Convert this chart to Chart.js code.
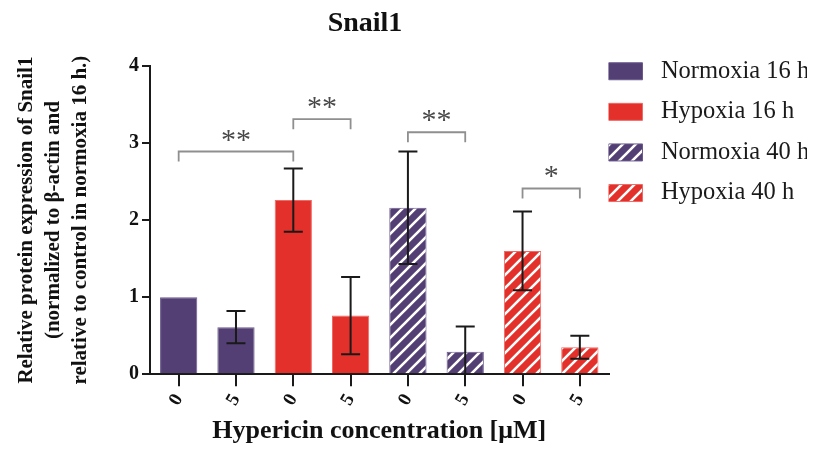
<!DOCTYPE html>
<html>
<head>
<meta charset="utf-8">
<script src="https://cdn.jsdelivr.net/npm/chart.js@4.4.0/dist/chart.umd.min.js"></script>
<style>
  html, body { margin: 0; padding: 0; background: #fff; }
</style>
</head>
<body>
<canvas id="snailChart" width="819" height="451"></canvas>
<script>
// values
const doseLabels = ['0', '5', '0', '5', '0', '5', '0', '5'];
const groupNames = ['Normoxia 16 h', 'Hypoxia 16 h', 'Normoxia 40 h', 'Hypoxia 40 h'];
const normoxia16Mean = [1.00, 0.61];
const normoxia16Err = [0, 0.21];
const hypoxia16Mean = [2.26, 0.76];
const hypoxia16Err = [0.41, 0.50];
const normoxia40Mean = [2.16, 0.29];
const normoxia40Err = [0.73, 0.33];
const hypoxia40Mean = [1.60, 0.35];
const hypoxia40Err = [0.51, 0.15];
// [from bar, to bar, bracket level, stars]
const brackets = [
    [0, 2, 2.89, '**'],
    [2, 3, 3.31, '**'],
    [4, 5, 3.14, '**'],
    [6, 7, 2.41, '*'],
];

const SERIF = '"Liberation Serif", "Times New Roman", serif';
const PURPLE = '#533f74';
const RED = '#e3302a';

function hatch(color) {
    const size = 13;
    const c = document.createElement('canvas');
    c.width = size;
    c.height = size;
    const g = c.getContext('2d');
    g.fillStyle = color;
    g.fillRect(0, 0, size, size);
    g.strokeStyle = '#ffffff';
    g.lineWidth = 2.6;
    g.beginPath();
    g.moveTo(-2, size + 2); g.lineTo(size + 2, -2);
    g.moveTo(-size / 2 - 2, size / 2 + 2); g.lineTo(size / 2 + 2, -size / 2 - 2);
    g.moveTo(size / 2 - 2, size * 1.5 + 2); g.lineTo(size * 1.5 + 2, size / 2 - 2);
    g.stroke();
    return g.createPattern(c, 'repeat');
}

// each group fills two of the eight slots
function slots(values, group) {
    const out = doseLabels.map(() => null);
    values.forEach((v, k) => { out[group * 2 + k] = v; });
    return out;
}

const groupMeans = [normoxia16Mean, hypoxia16Mean, normoxia40Mean, hypoxia40Mean];
const groupErrs = [normoxia16Err, hypoxia16Err, normoxia40Err, hypoxia40Err];
const groupFills = [PURPLE, RED, hatch(PURPLE), hatch(RED)];
const groupBorders = ['#6a5a8c', '#ee6a66', '#6a5a8c', '#ee6a66'];

const errorBars = {
    id: 'errorBars',
    afterDatasetsDraw(chart) {
        const { ctx, chartArea, scales: { y } } = chart;
        ctx.save();
        ctx.strokeStyle = '#1a1a1a';
        ctx.lineWidth = 2;
        chart.data.datasets.forEach((ds, i) => {
            const meta = chart.getDatasetMeta(i);
            meta.data.forEach((bar, j) => {
                const v = ds.data[j];
                const e = ds.errors[j];
                if (v == null || !e) return;
                const top = y.getPixelForValue(v + e);
                const lowRaw = y.getPixelForValue(v - e);
                const low = Math.min(lowRaw, chartArea.bottom);
                const half = 9.5;
                ctx.beginPath();
                ctx.moveTo(bar.x, top); ctx.lineTo(bar.x, low);
                ctx.moveTo(bar.x - half, top); ctx.lineTo(bar.x + half, top);
                if (lowRaw <= chartArea.bottom) {
                    ctx.moveTo(bar.x - half, low); ctx.lineTo(bar.x + half, low);
                }
                ctx.stroke();
            });
        });
        ctx.restore();
    }
};

const significance = {
    id: 'significance',
    afterDraw(chart) {
        const { ctx, scales: { x, y } } = chart;
        ctx.save();
        ctx.strokeStyle = '#8f8f8f';
        ctx.lineWidth = 1.8;
        ctx.fillStyle = '#4a4a4a';
        ctx.font = '30px ' + SERIF;
        ctx.textAlign = 'center';
        ctx.textBaseline = 'alphabetic';
        brackets.forEach(([a, b, level, stars]) => {
            const x1 = x.getPixelForValue(a);
            const x2 = x.getPixelForValue(b);
            const yt = y.getPixelForValue(level);
            ctx.beginPath();
            ctx.moveTo(x1, yt + 10); ctx.lineTo(x1, yt);
            ctx.lineTo(x2, yt); ctx.lineTo(x2, yt + 10);
            ctx.stroke();
            ctx.fillText(stars, (x1 + x2) / 2, yt - 3);
        });
        // chart heading
        ctx.fillStyle = '#111111';
        ctx.font = 'bold 28px ' + SERIF;
        ctx.fillText('Snail1', 365, 31);
        ctx.restore();
    }
};

new Chart(document.getElementById('snailChart'), {
    type: 'bar',
    data: {
        labels: doseLabels,
        datasets: groupNames.map((name, i) => ({
            label: name,
            data: slots(groupMeans[i], i),
            errors: slots(groupErrs[i], i),
            backgroundColor: groupFills[i],
            borderColor: groupBorders[i],
            borderWidth: 1,
            grouped: false,
            barPercentage: 0.65,
            categoryPercentage: 1.0,
        }))
    },
    options: {
        responsive: false,
        animation: false,
        // legend starts at 59, plot area is pushed down to 66 by the y axis
        layout: { padding: { top: 59, left: 13, right: 12, bottom: 4 } },
        plugins: {
            tooltip: { enabled: false },
            legend: {
                position: 'right',
                align: 'start',
                labels: {
                    boxWidth: 34,
                    boxHeight: 17,
                    padding: 0,
                    color: '#1a1a1a',
                    font: { family: SERIF, size: 24.5, lineHeight: 1.657 },
                    generateLabels(chart) {
                        const items = Chart.defaults.plugins.legend.labels.generateLabels(chart);
                        return items.map(it => Object.assign(it, { text: [' ' + it.text] }));
                    }
                }
            }
        },
        scales: {
            x: {
                grid: { drawOnChartArea: false, offset: false, tickLength: 12, lineWidth: 2, color: '#1a1a1a' },
                border: { width: 2, color: '#1a1a1a' },
                ticks: {
                    autoSkip: false, maxRotation: 60, minRotation: 60, padding: 4,
                    color: '#111111', font: { family: SERIF, size: 19, weight: 'bold' }
                },
                title: {
                    display: true,
                    text: 'Hypericin concentration [μM]',
                    color: '#111111',
                    font: { family: SERIF, size: 26, weight: 'bold' },
                    padding: { top: 2, bottom: 0 }
                }
            },
            y: {
                min: 0,
                max: 4,
                afterFit(scale) { scale.paddingTop = 66; },
                grid: { drawOnChartArea: false, tickLength: 8, lineWidth: 2, color: '#1a1a1a' },
                border: { width: 2, color: '#1a1a1a' },
                ticks: {
                    stepSize: 1, padding: 3,
                    color: '#111111', font: { family: SERIF, size: 20, weight: 'bold' }
                },
                title: {
                    display: true,
                    text: ['Relative protein expression of Snail1', '(normalized to β-actin and', 'relative to control in normoxia 16 h.)'],
                    color: '#111111',
                    font: { family: SERIF, size: 21, weight: 'bold', lineHeight: 1.286 },
                    padding: { top: 0, bottom: 32 }
                }
            }
        }
    },
    plugins: [errorBars, significance]
});
</script>
</body>
</html>
